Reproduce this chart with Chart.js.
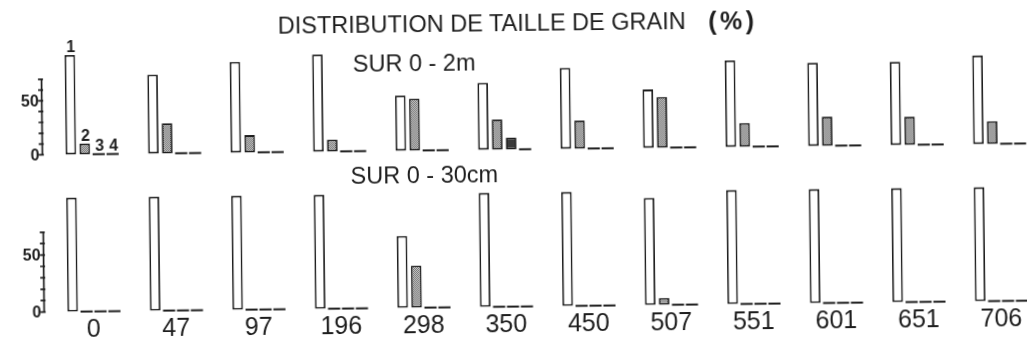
<!DOCTYPE html>
<html>
<head>
<meta charset="utf-8">
<script src="https://cdn.jsdelivr.net/npm/chart.js@4.4.1/dist/chart.umd.min.js"></script>
<style>
  html, body { margin: 0; padding: 0; background: #fff; overflow: hidden; }
  #sheet {
    position: relative; width: 1027px; height: 346px;
    transform: rotate(-0.66deg); transform-origin: 513px 173px;
    font-family: "Liberation Sans", Arial, Helvetica, sans-serif; color: #1e1e1e;
  }
  .txt { position: absolute; white-space: nowrap; line-height: 1; font-size: 23.5px; }
  #top-wrap { position: absolute; left: 0; top: 0; width: 1027px; height: 165px; }
  #bot-wrap { position: absolute; left: 0; top: 160px; width: 1027px; height: 186px; }
</style>
</head>
<body>
<div id="sheet">
  <div id="top-wrap"><canvas id="top"></canvas></div>
  <div id="bot-wrap"><canvas id="bot"></canvas></div>
  <div class="txt" style="left:279.6px; top:12px;">DISTRIBUTION DE TAILLE DE GRAIN</div>
  <div class="txt" style="left:710px; top:11.4px; font-size:25px; font-weight:bold; letter-spacing:3.5px;">(%)</div>
  <div class="txt" style="left:354px; top:50.6px;">SUR 0 - 2m</div>
  <div class="txt" style="left:350.6px; top:163.1px;">SUR 0 - 30cm</div>
</div>

<script>
// sample positions (x categories)
var sites = ['0', '47', '97', '196', '298', '350', '450', '507', '551', '601', '651', '706'];

// grain size classes 1..4, over 0 - 2m
var deep1 = [92, 73, 84, 90, 51, 62, 75, 54, 80, 77, 77, 82];
var deep2 = [10, 28, 16, 11, 48, 28, 26, 47, 22, 27, 26, 21];
var deep3 = [0, 0, 0, 0, 0, 11, 0, 0, 0, 0, 0, 0];
var deep4 = [0, 0, 0, 0, 0, 0, 0, 0, 0, 0, 0, 0];

// grain size classes 1..4, over 0 - 30cm
var surf1 = [100, 100, 100, 100, 63, 100, 100, 94, 100, 100, 100, 100];
var surf2 = [0, 0, 0, 0, 37, 0, 0, 6, 0, 0, 0, 0];
var surf3 = [0, 0, 0, 0, 0, 0, 0, 0, 0, 0, 0, 0];
var surf4 = [0, 0, 0, 0, 0, 0, 0, 0, 0, 0, 0, 0];

var classNames = ['1', '2', '3', '4'];
var yTickLabels = [0, 50];
var yAxisTop = 70;

var ink = '#1e1e1e';
var fontFam = '"Liberation Sans", Arial, Helvetica, sans-serif';

// fine dotted grey for class 2
function stipple(ctx) {
  var c = document.createElement('canvas');
  c.width = 2; c.height = 2;
  var g = c.getContext('2d');
  g.fillStyle = '#d6d6d6'; g.fillRect(0, 0, 2, 2);
  g.fillStyle = '#666';
  g.fillRect(0, 0, 1, 1); g.fillRect(1, 1, 1, 1);
  return ctx.createPattern(c, 'repeat');
}

// zero values show as a short dash on the base line
var zeroDash = {
  id: 'zeroDash',
  afterDatasetsDraw: function (chart) {
    var ctx = chart.ctx, y0 = chart.scales.y.getPixelForValue(0);
    ctx.save();
    ctx.strokeStyle = ink; ctx.lineWidth = 2;
    chart.data.datasets.forEach(function (ds, d) {
      chart.getDatasetMeta(d).data.forEach(function (bar, i) {
        if (ds.data[i] !== 0) return;
        var p = bar.getProps(['x', 'width'], true);
        ctx.beginPath();
        ctx.moveTo(p.x - p.width / 2 - 0.8, y0);
        ctx.lineTo(p.x + p.width / 2 + 0.8, y0);
        ctx.stroke();
      });
    });
    ctx.restore();
  }
};

// short percent axis beside the first group
var sideAxis = {
  id: 'sideAxis',
  afterDraw: function (chart, args, opts) {
    var ys = chart.scales.y, ctx = chart.ctx, x = opts.x;
    ctx.save();
    ctx.strokeStyle = ink; ctx.lineWidth = 1.7;
    ctx.beginPath();
    ctx.moveTo(x, ys.getPixelForValue(0));
    ctx.lineTo(x, ys.getPixelForValue(yAxisTop));
    for (var v = 0; v <= yAxisTop; v += 10) {
      var py = ys.getPixelForValue(v);
      ctx.moveTo(x - 3.5, py); ctx.lineTo(x + 1.5, py);
    }
    ctx.stroke();
    ctx.fillStyle = ink;
    ctx.font = 'bold 16px ' + fontFam;
    ctx.textAlign = 'right'; ctx.textBaseline = 'middle';
    yTickLabels.forEach(function (v) {
      ctx.fillText(String(v), x - 3, ys.getPixelForValue(v) + 1);
    });
    ctx.restore();
  }
};

// class numbers over the first group
var classTags = {
  id: 'classTags',
  afterDatasetsDraw: function (chart) {
    var ctx = chart.ctx, y0 = chart.scales.y.getPixelForValue(0);
    ctx.save();
    ctx.fillStyle = ink;
    ctx.font = 'bold 16px ' + fontFam;
    ctx.textAlign = 'center'; ctx.textBaseline = 'alphabetic';
    chart.data.datasets.forEach(function (ds, d) {
      var bar = chart.getDatasetMeta(d).data[0];
      var p = bar.getProps(['x', 'y'], true);
      var top = ds.data[0] > 0 ? p.y : y0;
      ctx.fillText(classNames[d], p.x + 1, top - 3);
    });
    ctx.restore();
  }
};

function makeSets(ctx, s1, s2, s3, s4) {
  var fills = ['#fff', stipple(ctx), '#3a3a3a', '#111'];
  return [s1, s2, s3, s4].map(function (vals, k) {
    return {
      label: classNames[k],
      data: vals,
      backgroundColor: fills[k],
      borderColor: ink,
      borderWidth: 1.8,
      borderSkipped: false,
      categoryPercentage: 0.674,
      barPercentage: 0.76,
      clip: false
    };
  });
}

function panel(id, sets, pad, showX) {
  var ctx = document.getElementById(id).getContext('2d');
  return new Chart(ctx, {
    type: 'bar',
    data: { labels: sites, datasets: makeSets(ctx, sets[0], sets[1], sets[2], sets[3]) },
    options: {
      responsive: true,
      maintainAspectRatio: false,
      animation: false,
      events: [],
      layout: { padding: pad },
      plugins: {
        legend: { display: false },
        tooltip: { enabled: false },
        sideAxis: { x: 42.6 }
      },
      scales: {
        x: {
          display: showX,
          offset: false,
          grid: { display: false, drawTicks: false },
          border: { display: false },
          ticks: {
            color: ink,
            padding: 4,
            maxRotation: 0,
            autoSkip: false,
            font: { family: fontFam, size: 25 }
          },
          afterFit: function (scale) { scale.height = showX ? 34 : 0; }
        },
        y: { display: false, min: 0, max: 100 }
      }
    },
    plugins: id === 'top' ? [zeroDash, sideAxis, classTags] : [zeroDash, sideAxis]
  });
}

panel('top', [deep1, deep2, deep3, deep4], { left: 92, right: 27.4, top: 41.4, bottom: 15.6 }, false);
panel('bot', [surf1, surf2, surf3, surf4], { left: 92, right: 27.4, top: 32.6, bottom: 5.4 }, true);
</script>
</body>
</html>
